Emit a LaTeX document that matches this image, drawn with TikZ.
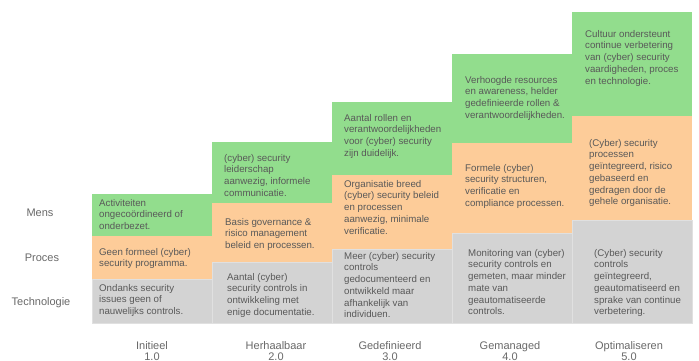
\documentclass[tikz,border=0pt]{standalone}
\usepackage{fontspec}
\setmainfont{Liberation Sans}

\definecolor{mensgreen}{RGB}{146,221,141}
\definecolor{procorange}{RGB}{253,204,153}
\definecolor{techgray}{RGB}{211,211,211}
\definecolor{txtgray}{RGB}{89,89,89}
\definecolor{lblgray}{RGB}{105,105,105}

\begin{document}
\begin{tikzpicture}[x=1pt,y=-1pt]
  \tikzstyle{cell} = [anchor=north west, inner sep=0pt, align=left, text=txtgray, font=\fontsize{9.7}{11.7}\selectfont]
  \tikzstyle{rowlbl} = [inner sep=0pt, text=lblgray, font=\fontsize{11}{12}\selectfont]
  \tikzstyle{lvllbl} = [inner sep=0pt, align=center, text=lblgray, font=\fontsize{11}{11.2}\selectfont]
  \useasboundingbox (0,0) rectangle (699,360);
  \fill[white] (0,0) rectangle (699,360);

  % mens
  \fill[mensgreen] (92,194) rectangle (212,236);
  \fill[mensgreen] (212,142) rectangle (332,203);
  \fill[mensgreen] (332,102) rectangle (452,175);
  \fill[mensgreen] (452,54) rectangle (572,143);
  \fill[mensgreen] (572,12) rectangle (692,116);
  % proces
  \fill[procorange] (92,236) rectangle (212,279);
  \fill[procorange] (212,203) rectangle (332,262);
  \fill[procorange] (332,175) rectangle (452,249);
  \fill[procorange] (452,143) rectangle (572,233);
  \fill[procorange] (572,116) rectangle (692,220);
  % technologie
  \fill[techgray, draw=white!88!black, line width=0.6pt] (92,279) rectangle (212,323);
  \fill[techgray, draw=white!88!black, line width=0.6pt] (212,262) rectangle (332,323);
  \fill[techgray, draw=white!88!black, line width=0.6pt] (332,249) rectangle (452,323);
  \fill[techgray, draw=white!88!black, line width=0.6pt] (452,233) rectangle (572,323);
  \fill[techgray, draw=white!88!black, line width=0.6pt] (572,220) rectangle (692,323);

  \node[cell] (m1) at (99,199) {Activiteiten\\ongecoördineerd of\\onderbezet.};
  \node[cell] (p1) at (99,248) {Geen formeel (cyber)\\security programma.};
  \node[cell] (t1) at (99,284) {Ondanks security\\issues geen of\\nauwelijks controls.};

  \node[cell] (m2) at (224,154) {(cyber) security\\leiderschap\\aanwezig, informele\\communicatie.};
  \node[cell] (p2) at (225,218) {Basis governance \&\\risico management\\beleid en processen.};
  \node[cell] (t2) at (227,273) {Aantal (cyber)\\security controls in\\ontwikkeling met\\enige documentatie.};

  \node[cell] (m3) at (344,114) {Aantal rollen en\\verantwoordelijkheden\\voor (cyber) security\\zijn duidelijk.};
  \node[cell] (p3) at (344,180) {Organisatie breed\\(cyber) security beleid\\en processen\\aanwezig, minimale\\verificatie.};
  \node[cell] (t3) at (344,252) {Meer (cyber) security\\controls\\gedocumenteerd en\\ontwikkeld maar\\afhankelijk van\\individuen.};

  \node[cell] (m4) at (465,76) {Verhoogde resources\\en awareness, helder\\gedefinieerde rollen \&\\verantwoordelijkheden.};
  \node[cell] (p4) at (465,164) {Formele (cyber)\\security structuren,\\verificatie en\\compliance processen.};
  \node[cell] (t4) at (468,249) {Monitoring van (cyber)\\security controls en\\gemeten, maar minder\\mate van\\geautomatiseerde\\controls.};

  \node[cell] (m5) at (585,30) {Cultuur ondersteunt\\continue verbetering\\van (cyber) security\\vaardigheden, proces\\en technologie.};
  \node[cell] (p5) at (589,139) {(Cyber) security\\processen\\geïntegreerd, risico\\gebaseerd en\\gedragen door de\\gehele organisatie.};
  \node[cell] (t5) at (594,249) {(Cyber) security\\controls\\geïntegreerd,\\geautomatiseerd en\\sprake van continue\\verbetering.};

  \node[rowlbl] (lm) at (40,213) {Mens};
  \node[rowlbl] (lp) at (42,258) {Proces};
  \node[rowlbl] (lt) at (41,303) {Technologie};

  \node[lvllbl] (n1) at (152,351) {Initieel\\1.0};
  \node[lvllbl] (n2) at (276,351) {Herhaalbaar\\2.0};
  \node[lvllbl] (n3) at (390,351) {Gedefinieerd\\3.0};
  \node[lvllbl] (n4) at (510,351) {Gemanaged\\4.0};
  \node[lvllbl] (n5) at (629,351) {Optimaliseren\\5.0};
\end{tikzpicture}
\end{document}
